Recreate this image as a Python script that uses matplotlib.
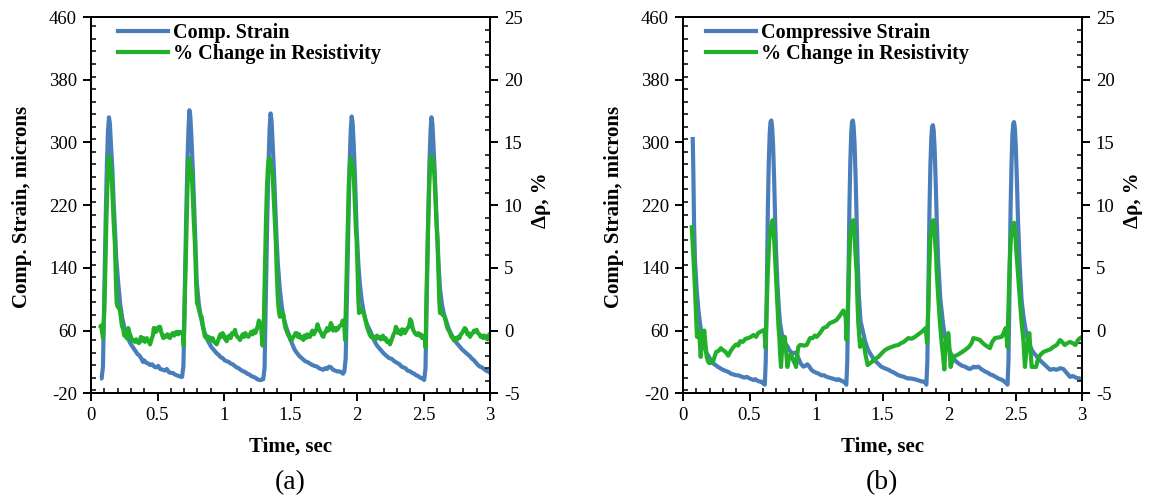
import matplotlib
matplotlib.use("Agg")
import matplotlib.pyplot as plt
from matplotlib.ticker import MultipleLocator, FixedLocator, FuncFormatter
from matplotlib.lines import Line2D

plt.rcParams['font.family'] = ['Liberation Serif', 'DejaVu Serif']
plt.rcParams['axes.unicode_minus'] = False

BLUE = '#4a7ebb'
GREEN = '#22b02b'

# ---------------- Panel (a): strain (microns) ----------------
a_strain = [
    (0.068, -1), (0.075, -1), (0.08, -1), (0.09, 14), (0.10, 110), (0.11, 200), (0.12, 275), (0.128, 315),
    (0.135, 332), (0.142, 324), (0.15, 297), (0.16, 268), (0.17, 225), (0.18, 190), (0.19, 152), (0.205, 120),
    (0.22, 93), (0.235, 76), (0.255, 61), (0.275, 51), (0.295, 44), (0.31, 40), (0.33, 35), (0.35, 30),
    (0.365, 28), (0.38, 24), (0.39, 20), (0.40, 22), (0.415, 19), (0.43, 18), (0.445, 16), (0.46, 17),
    (0.475, 14), (0.49, 13), (0.505, 15), (0.52, 11), (0.54, 10), (0.555, 9), (0.57, 11), (0.585, 7),
    (0.60, 6), (0.615, 6), (0.63, 4), (0.645, 3), (0.66, 2), (0.675, 1), (0.685, 1),
    (0.695, 15), (0.705, 110), (0.715, 200), (0.725, 275), (0.733, 318), (0.74, 341), (0.747, 333),
    (0.755, 306), (0.765, 268), (0.775, 222), (0.785, 170), (0.795, 122), (0.81, 95), (0.825, 78),
    (0.845, 62), (0.865, 52), (0.885, 45), (0.905, 39), (0.925, 35), (0.945, 31), (0.96, 29), (0.975, 26),
    (0.99, 25), (1.005, 22), (1.02, 21), (1.035, 20), (1.05, 18), (1.065, 17), (1.08, 15), (1.095, 13),
    (1.11, 12), (1.125, 10), (1.145, 8), (1.16, 7), (1.175, 5), (1.19, 4), (1.205, 2), (1.22, 1),
    (1.235, 0), (1.25, -2), (1.265, -3), (1.28, -3), (1.295, -2),
    (1.305, 12), (1.315, 110), (1.325, 200), (1.335, 275), (1.343, 318), (1.35, 337), (1.357, 329),
    (1.365, 302), (1.375, 265), (1.385, 220), (1.395, 178), (1.405, 145), (1.42, 112), (1.435, 90),
    (1.45, 75), (1.47, 63), (1.49, 54), (1.51, 44), (1.53, 36), (1.55, 31), (1.57, 27), (1.59, 24),
    (1.61, 21), (1.625, 20), (1.645, 18), (1.665, 16), (1.68, 15), (1.70, 14), (1.715, 12), (1.73, 11),
    (1.745, 10), (1.76, 12), (1.775, 11), (1.79, 14), (1.805, 13), (1.82, 10), (1.835, 9), (1.85, 8),
    (1.865, 8), (1.88, 7), (1.895, 5), (1.905, 8),
    (1.915, 25), (1.925, 110), (1.935, 200), (1.945, 275), (1.953, 315), (1.96, 333), (1.967, 325),
    (1.975, 298), (1.985, 255), (1.997, 190), (2.01, 145), (2.02, 122), (2.035, 99), (2.05, 84),
    (2.065, 73), (2.08, 66), (2.098, 60), (2.115, 53), (2.13, 47), (2.15, 41), (2.17, 37), (2.185, 34),
    (2.2, 31), (2.22, 28), (2.24, 25), (2.26, 24), (2.28, 21), (2.30, 19), (2.32, 17), (2.335, 14),
    (2.35, 13), (2.365, 12), (2.38, 9), (2.40, 8), (2.415, 6), (2.43, 5), (2.445, 3), (2.46, 2),
    (2.475, 0), (2.49, -1), (2.505, -3),
    (2.515, 12), (2.525, 110), (2.535, 200), (2.545, 275), (2.553, 315), (2.56, 332), (2.567, 324),
    (2.575, 297), (2.585, 260), (2.595, 215), (2.605, 175), (2.615, 138), (2.625, 112), (2.64, 92),
    (2.655, 80), (2.674, 70), (2.69, 62), (2.71, 55), (2.73, 49), (2.75, 44), (2.77, 40), (2.79, 36),
    (2.81, 33), (2.83, 30), (2.85, 27), (2.865, 24), (2.88, 22), (2.895, 19), (2.91, 16), (2.925, 14),
    (2.94, 13), (2.955, 11), (2.97, 9), (2.985, 8), (3.0, 6),
]

# ---------------- Panel (a): resistivity change (%) ----------------
a_resist = [
    (0.068, 0.2), (0.075, 0.4), (0.082, 0.0), (0.09, -0.6), (0.095, 0.5), (0.10, 1.5), (0.108, 5.0),
    (0.115, 8.5), (0.123, 11.5), (0.13, 13.3), (0.135, 13.9), (0.141, 13.4), (0.148, 13.2), (0.155, 12.4),
    (0.163, 10.5), (0.171, 8.5), (0.18, 6.8), (0.187, 4.0), (0.193, 2.2), (0.2, 1.9), (0.21, 1.8),
    (0.218, 1.6), (0.225, 1.0), (0.232, 0.4), (0.243, 0.06), (0.25, -0.4), (0.258, -0.2), (0.268, -0.6),
    (0.275, -0.1), (0.28, 0.2), (0.29, -0.2), (0.30, -0.5), (0.31, -0.8), (0.318, -0.75), (0.33, -0.9),
    (0.34, -0.7), (0.35, -0.9), (0.36, -1.0), (0.368, -0.9), (0.375, -0.5), (0.385, -0.8), (0.395, -0.6),
    (0.405, -0.9), (0.419, -0.6), (0.43, -0.8), (0.444, -1.1), (0.455, -0.7), (0.465, -0.4), (0.472, 0.2),
    (0.481, 0.2), (0.49, -0.1), (0.50, 0.1), (0.51, 0.3), (0.519, 0.3), (0.53, -0.2), (0.544, -0.6),
    (0.555, -0.4), (0.565, -0.5), (0.575, -0.3), (0.585, -0.5), (0.594, -0.6), (0.605, -0.3),
    (0.615, -0.2), (0.625, -0.4), (0.635, -0.2), (0.644, -0.1), (0.655, -0.3), (0.665, -0.1),
    (0.675, -0.2), (0.682, -0.1), (0.69, -0.2), (0.697, -1.2),
    (0.703, 1.5), (0.71, 5.0), (0.718, 8.5), (0.726, 11.5), (0.733, 13.3), (0.738, 13.75), (0.744, 13.3),
    (0.75, 13.0), (0.757, 12.6), (0.765, 10.8), (0.773, 8.7), (0.782, 6.8), (0.79, 4.0), (0.797, 2.2),
    (0.807, 1.9), (0.815, 1.5), (0.823, 1.2), (0.832, 1.1), (0.84, 0.5), (0.848, 0.0), (0.857, -0.5),
    (0.865, -0.4), (0.875, -0.7), (0.885, -0.5), (0.895, -0.6), (0.905, -0.8), (0.915, -0.6),
    (0.925, -0.9), (0.935, -1.0), (0.945, -1.1), (0.955, -0.8), (0.965, -0.5), (0.972, -0.3),
    (0.982, -0.5), (0.99, -0.2), (1.0, -0.4), (1.01, -0.7), (1.02, -0.85), (1.03, -0.5), (1.04, -0.4),
    (1.05, -0.6), (1.06, -0.2), (1.07, -0.3), (1.083, 0.06), (1.09, -0.3), (1.10, -0.5), (1.11, -0.6),
    (1.12, -0.75), (1.13, -0.5), (1.14, -0.3), (1.15, -0.5), (1.16, -0.2), (1.17, -0.4), (1.183, -0.5),
    (1.195, -0.3), (1.205, -0.1), (1.215, -0.3), (1.225, 0.0), (1.235, -0.2), (1.245, 0.06),
    (1.255, 0.4), (1.262, 0.8), (1.27, 0.6), (1.28, 0.2), (1.29, -1.2),
    (1.30, 1.0), (1.307, 4.5), (1.315, 8.5), (1.323, 11.5), (1.33, 13.0), (1.337, 13.6), (1.343, 13.75),
    (1.35, 13.3), (1.357, 13.0), (1.366, 12.3), (1.374, 10.5), (1.382, 8.6), (1.39, 7.0), (1.397, 4.5),
    (1.405, 2.5), (1.412, 1.6), (1.42, 1.1), (1.428, 1.5), (1.437, 1.3), (1.446, 1.3), (1.455, 0.6),
    (1.462, 0.2), (1.47, 0.0), (1.48, -0.3), (1.49, -0.5), (1.496, -0.6), (1.502, -0.8), (1.509, -0.75),
    (1.52, -0.5), (1.53, -0.4), (1.538, -0.2), (1.546, -0.2), (1.555, -0.5), (1.565, -0.3),
    (1.575, -0.6), (1.585, -0.5), (1.596, -0.75), (1.605, -0.4), (1.615, -0.6), (1.625, -0.3),
    (1.635, -0.5), (1.647, -0.5), (1.655, -0.2), (1.665, 0.0), (1.675, -0.3), (1.685, -0.1),
    (1.695, 0.1), (1.703, 0.5), (1.709, 0.3), (1.72, 0.0), (1.73, -0.2), (1.738, -0.4), (1.747, -0.5),
    (1.755, -0.2), (1.765, -0.1), (1.775, 0.2), (1.785, 0.0), (1.795, 0.2), (1.803, 0.6), (1.81, 0.45),
    (1.82, 0.0), (1.83, 0.2), (1.84, 0.0), (1.847, 0.2), (1.855, 0.1), (1.865, 0.3), (1.875, 0.4),
    (1.885, 0.5), (1.892, 0.8), (1.897, 0.7), (1.905, 0.3), (1.91, -0.75),
    (1.915, 1.5), (1.922, 5.0), (1.93, 8.5), (1.938, 11.5), (1.945, 13.0), (1.95, 13.5), (1.955, 13.75),
    (1.962, 13.3), (1.97, 13.1), (1.977, 12.0), (1.984, 10.0), (1.991, 8.2), (1.997, 7.2), (2.005, 4.5),
    (2.01, 2.5), (2.015, 1.4), (2.022, 1.7), (2.03, 1.5), (2.04, 1.6), (2.047, 1.5), (2.055, 1.2),
    (2.065, 0.8), (2.075, 0.3), (2.085, 0.0), (2.095, -0.3), (2.105, -0.5), (2.112, -0.4), (2.12, -0.6),
    (2.13, -0.5), (2.14, -0.7), (2.15, -0.4), (2.16, -0.6), (2.17, -0.5), (2.178, -0.7), (2.186, -0.6),
    (2.195, -0.4), (2.205, -0.7), (2.215, -0.6), (2.225, -0.9), (2.235, -0.8), (2.248, -1.1),
    (2.255, -0.9), (2.265, -0.6), (2.275, -0.3), (2.285, -0.1), (2.292, 0.3), (2.298, 0.2), (2.31, -0.2),
    (2.32, 0.0), (2.33, -0.3), (2.34, 0.1), (2.35, 0.06), (2.36, -0.2), (2.37, 0.0), (2.38, 0.2),
    (2.39, 0.3), (2.40, 0.9), (2.41, 0.7), (2.418, 0.2), (2.425, 0.0), (2.435, -0.2), (2.449, -0.35),
    (2.46, -0.2), (2.47, -0.4), (2.48, -0.3), (2.49, -0.6), (2.50, -0.5), (2.508, -0.4), (2.516, -1.35),
    (2.52, 1.5), (2.527, 5.0), (2.535, 8.5), (2.543, 11.5), (2.55, 13.3), (2.556, 13.7), (2.56, 13.9),
    (2.567, 13.5), (2.575, 13.2), (2.582, 12.4), (2.59, 10.5), (2.597, 8.6), (2.605, 7.2), (2.612, 4.5),
    (2.618, 2.5), (2.624, 1.4), (2.632, 1.6), (2.64, 1.3), (2.65, 1.2), (2.66, 1.1), (2.67, 0.6),
    (2.68, 0.2), (2.69, 0.0), (2.70, -0.2), (2.71, -0.5), (2.72, -0.6), (2.73, -0.8), (2.74, -0.6),
    (2.75, -0.75), (2.76, -0.5), (2.77, -0.6), (2.78, -0.3), (2.79, -0.2), (2.80, 0.0), (2.81, 0.2),
    (2.82, 0.1), (2.83, -0.3), (2.84, -0.2), (2.85, -0.5), (2.86, -0.3), (2.87, -0.2), (2.88, 0.0),
    (2.89, -0.1), (2.90, 0.06), (2.91, -0.2), (2.92, -0.3), (2.93, -0.5), (2.94, -0.4), (2.95, -0.6),
    (2.96, -0.4), (2.97, -0.5), (2.98, -0.7), (2.99, -0.4), (3.0, -0.2),
]

# ---------------- Panel (b): strain (microns) ----------------
b_strain = [
    (0.073, 307), (0.078, 260), (0.083, 197), (0.09, 150), (0.103, 112), (0.115, 88), (0.128, 69),
    (0.14, 55), (0.153, 44), (0.165, 37), (0.178, 31), (0.19, 28), (0.20, 25), (0.215, 21), (0.228, 18),
    (0.245, 16), (0.26, 14), (0.28, 12), (0.30, 10), (0.315, 9), (0.33, 8), (0.345, 7), (0.36, 5),
    (0.38, 4), (0.40, 3), (0.415, 3), (0.43, 2), (0.445, 1), (0.46, 0), (0.48, 1), (0.50, -1),
    (0.515, -2), (0.53, -3), (0.545, -2), (0.56, -4), (0.575, -5), (0.59, -5), (0.60, -7), (0.615, -9),
    (0.622, 20), (0.63, 110), (0.638, 215), (0.645, 275), (0.652, 312), (0.658, 326), (0.664, 328),
    (0.67, 320), (0.677, 298), (0.685, 255), (0.693, 200), (0.70, 160), (0.71, 120), (0.72, 90),
    (0.73, 69), (0.745, 54),
    (0.76, 46), (0.77, 43), (0.785, 40), (0.80, 35), (0.815, 32), (0.83, 31), (0.845, 32), (0.855, 30),
    (0.87, 24), (0.885, 18), (0.905, 14), (0.92, 15), (0.935, 17), (0.95, 14), (0.965, 10), (0.98, 8),
    (1.005, 6), (1.02, 5), (1.04, 3), (1.06, 3), (1.08, 1), (1.10, 0), (1.12, -1), (1.14, -2),
    (1.155, -3), (1.17, -2), (1.19, -4), (1.205, -5), (1.22, -7), (1.228, -9),
    (1.235, 20), (1.243, 110), (1.251, 215), (1.258, 275), (1.265, 312), (1.271, 326), (1.277, 328),
    (1.283, 320), (1.29, 298), (1.298, 255), (1.306, 200), (1.313, 150), (1.322, 105), (1.335, 72),
    (1.355, 57), (1.37, 46), (1.39, 36), (1.41, 30),
    (1.44, 22), (1.46, 19), (1.49, 14), (1.515, 12), (1.545, 10), (1.565, 8), (1.58, 7), (1.60, 5),
    (1.62, 3), (1.64, 2), (1.66, 1), (1.69, -1), (1.71, -1), (1.74, -2), (1.76, -3), (1.78, -4),
    (1.795, -5), (1.81, -5), (1.82, -6), (1.83, -9),
    (1.837, 20), (1.845, 110), (1.853, 212), (1.86, 270), (1.867, 306), (1.873, 320), (1.879, 322),
    (1.885, 315), (1.892, 292), (1.90, 250), (1.908, 200), (1.918, 150), (1.935, 100), (1.955, 69),
    (1.97, 52), (1.99, 40), (2.01, 32),
    (2.03, 26), (2.045, 22), (2.065, 19), (2.08, 17), (2.10, 15), (2.12, 14), (2.14, 12), (2.155, 11),
    (2.17, 12), (2.185, 14), (2.20, 13), (2.22, 14), (2.235, 12), (2.25, 10), (2.27, 8), (2.295, 6),
    (2.31, 4), (2.33, 3), (2.35, 1), (2.37, -1), (2.385, -2), (2.40, -3), (2.415, -5), (2.43, -7),
    (2.44, -9),
    (2.447, 20), (2.455, 110), (2.463, 215), (2.47, 273), (2.477, 310), (2.483, 324), (2.489, 326),
    (2.495, 319), (2.502, 296), (2.51, 255), (2.518, 205), (2.53, 150), (2.545, 100), (2.56, 78),
    (2.575, 62), (2.59, 50), (2.60, 45),
    (2.62, 36), (2.64, 31), (2.66, 27), (2.685, 22), (2.71, 18), (2.735, 14), (2.76, 10), (2.785, 11),
    (2.81, 10), (2.835, 12), (2.86, 11), (2.875, 8), (2.89, 5), (2.91, 1), (2.93, 2), (2.96, -0.4),
    (2.98, -1), (3.0, -2),
]

# ---------------- Panel (b): resistivity change (%) ----------------
b_resist = [
    (0.065, 8.4), (0.07, 7.5), (0.08, 5.5), (0.09, 3.3), (0.098, 1.2), (0.105, -0.5), (0.112, -0.2),
    (0.12, 0.1), (0.127, -1.0), (0.133, -2.1), (0.14, -1.2), (0.15, -0.5), (0.16, 0.0), (0.168, -1.0),
    (0.178, -2.1), (0.19, -2.5), (0.20, -2.6), (0.225, -2.5), (0.24, -2.0), (0.25, -1.7), (0.27, -1.6),
    (0.285, -1.4), (0.30, -1.55), (0.32, -1.7), (0.34, -2.0), (0.36, -1.6), (0.38, -1.3), (0.40, -1.1),
    (0.415, -1.2), (0.43, -0.85), (0.45, -0.9), (0.47, -0.65), (0.49, -0.6), (0.51, -0.5), (0.53, -0.35),
    (0.55, -0.5), (0.565, -0.2), (0.58, -0.1), (0.60, 0.0), (0.612, 0.06), (0.619, -1.35),
    (0.627, 1.0), (0.637, 4.5), (0.647, 7.0), (0.655, 7.8), (0.665, 8.4), (0.674, 8.8), (0.682, 8.0),
    (0.69, 6.3), (0.70, 4.3), (0.71, 2.0), (0.718, 0.3), (0.724, -0.5), (0.731, -2.0), (0.737, -2.9),
    (0.745, -1.5), (0.754, -0.75), (0.765, -0.5), (0.774, -1.5), (0.785, -2.9), (0.795, -2.3),
    (0.81, -1.9), (0.82, -2.1), (0.83, -2.4), (0.84, -2.6), (0.85, -2.9), (0.858, -2.0), (0.867, -1.3),
    (0.88, -1.15), (0.892, -1.15), (0.91, -1.2), (0.93, -1.15), (0.955, -0.6), (0.975, -0.6),
    (0.99, -0.4), (1.005, -0.5), (1.03, -0.2), (1.055, 0.2), (1.08, 0.3), (1.095, 0.5), (1.105, 0.6),
    (1.13, 0.7), (1.155, 0.85), (1.18, 1.2), (1.205, 1.6), (1.223, 1.1), (1.23, -0.75),
    (1.24, 2.0), (1.25, 5.5), (1.258, 7.6), (1.265, 8.1), (1.272, 8.5), (1.28, 8.8), (1.287, 8.2),
    (1.295, 6.5), (1.306, 4.5), (1.312, 2.2), (1.318, 0.6), (1.331, -1.3), (1.348, -0.75),
    (1.358, -1.0), (1.372, -1.9), (1.388, -2.75), (1.419, -2.5), (1.44, -2.3), (1.469, -2.1),
    (1.495, -1.8), (1.519, -1.55), (1.545, -1.4), (1.569, -1.3), (1.595, -1.2), (1.619, -1.15),
    (1.64, -1.0), (1.66, -0.9), (1.694, -0.6), (1.72, -0.65), (1.744, -0.5), (1.77, -0.3),
    (1.795, -0.1), (1.825, 0.2), (1.835, -1.0),
    (1.845, 2.0), (1.852, 5.0), (1.86, 7.4), (1.867, 8.0), (1.874, 8.5), (1.882, 8.8), (1.889, 8.4),
    (1.896, 7.0), (1.903, 6.0), (1.907, 4.8), (1.92, 2.5), (1.932, 0.6), (1.945, -1.0), (1.955, -2.0),
    (1.965, -3.1), (1.975, -1.0), (1.982, -0.5), (1.995, -0.2), (2.004, -1.5), (2.012, -2.9),
    (2.033, -2.1), (2.07, -1.9), (2.10, -1.7), (2.12, -1.55), (2.15, -1.3), (2.17, -1.0), (2.183, -0.6),
    (2.205, -0.65), (2.233, -0.75), (2.25, -0.95), (2.271, -1.15), (2.308, -1.4), (2.325, -0.9),
    (2.346, -0.6), (2.37, -0.55), (2.396, -0.5), (2.41, -0.2), (2.426, 0.2), (2.439, -1.3),
    (2.447, 2.0), (2.455, 5.0), (2.463, 7.0), (2.47, 7.8), (2.48, 8.3), (2.49, 8.6), (2.497, 8.0),
    (2.505, 6.5), (2.52, 4.3), (2.535, 2.0), (2.546, 0.6), (2.559, -0.75), (2.571, -2.9), (2.58, -1.8),
    (2.59, -1.0), (2.604, -0.2), (2.612, -1.5), (2.622, -2.9), (2.64, -2.9), (2.655, -2.9),
    (2.67, -2.2), (2.69, -1.9), (2.71, -1.7), (2.735, -1.6), (2.76, -1.5), (2.785, -1.3), (2.81, -1.15),
    (2.835, -0.75), (2.85, -0.9), (2.87, -1.15), (2.89, -1.0), (2.91, -0.9), (2.93, -1.0), (2.95, -1.15),
    (2.97, -0.75), (2.985, -0.6), (3.0, -0.5),
]

x_ticks = [0, 0.5, 1, 1.5, 2, 2.5, 3]
strain_ticks = [-20, 60, 140, 220, 300, 380, 460]
resist_ticks = [-5, 0, 5, 10, 15, 20, 25]
panel_labels = ['(a)', '(b)']
strain_names = ['Comp. Strain', 'Compressive Strain']
resist_name = '% Change in Resistivity'
xlabel_text = 'Time, sec'
ylabel_left = 'Comp. Strain, microns'
ylabel_right = '\u0394\u03c1, %'

W, H = 1150, 500
fig = plt.figure(figsize=(W / 100, H / 100), dpi=100)

ax_left_px = [91, 683]
ax_w_px = 399
ax_top_px = 17
ax_bot_px = 393.3
ax_h_px = ax_bot_px - ax_top_px

TICK_FS = 13.5
LABEL_FS = 15
LEG_FS = 14.5
LW = 3.0

fmt = FuncFormatter(lambda v, p: ('%g' % v))

datasets = [(a_strain, a_resist), (b_strain, b_resist)]

for i, (strain, resist) in enumerate(datasets):
    left = ax_left_px[i]
    ax = fig.add_axes([left / W, (H - ax_bot_px) / H, ax_w_px / W, ax_h_px / H])
    axr = ax.twinx()

    ts = [p[0] for p in strain]
    vs = [p[1] for p in strain]
    tr = [p[0] for p in resist]
    vr = [p[1] for p in resist]

    ax.plot(ts, vs, color=BLUE, lw=LW, solid_joinstyle='round', solid_capstyle='butt')
    axr.plot(tr, vr, color=GREEN, lw=LW, solid_joinstyle='round', solid_capstyle='butt')

    ax.set_xlim(0, 3)
    ax.set_ylim(-20, 460)
    axr.set_ylim(-5, 25)

    ax.xaxis.set_major_locator(FixedLocator(x_ticks))
    ax.xaxis.set_minor_locator(MultipleLocator(0.1))
    ax.xaxis.set_major_formatter(fmt)
    ax.yaxis.set_major_locator(FixedLocator(strain_ticks))
    ax.yaxis.set_minor_locator(MultipleLocator(16))
    ax.yaxis.set_major_formatter(fmt)
    axr.yaxis.set_major_locator(FixedLocator(resist_ticks))
    axr.yaxis.set_minor_locator(MultipleLocator(1))
    axr.yaxis.set_major_formatter(fmt)

    for a in (ax, axr):
        for s in a.spines.values():
            s.set_linewidth(1.4)
            s.set_color('black')
        a.tick_params(which='major', direction='out', length=5.5, width=1.4,
                      labelsize=TICK_FS, pad=4.5, colors='black')
        a.tick_params(which='minor', direction='in', length=3.5, width=1.1)
    ax.tick_params(axis='both', which='both', top=False, right=False)
    axr.tick_params(axis='y', which='both', left=False, right=True)

    # legend
    handles = [Line2D([], [], color=BLUE, lw=LW), Line2D([], [], color=GREEN, lw=LW)]
    axr.legend(handles, [strain_names[i], resist_name], loc='upper left',
               bbox_to_anchor=((27 if i == 0 else 23) / ax_w_px, 0.985),
               frameon=False, borderpad=0, borderaxespad=0, handlelength=2.5,
               handletextpad=0.25, labelspacing=0.05,
               prop={'weight': 'bold', 'size': LEG_FS, 'family': 'Liberation Serif'})

    # axis labels
    cx = left + ax_w_px / 2
    fig.text(cx / W, 1 - 447 / H, xlabel_text, ha='center', va='center',
             fontsize=LABEL_FS, fontweight='bold')
    fig.text((left - 69) / W, 1 - 207 / H, ylabel_left, ha='center', va='center',
             rotation=90, fontsize=LABEL_FS, fontweight='bold')
    fig.text((left + 450) / W, 1 - 200 / H, ylabel_right, ha='center', va='center',
             rotation=90, fontsize=LABEL_FS, fontweight='bold')
    fig.text((left + 199) / W, 1 - 483 / H, panel_labels[i], ha='center', va='center',
             fontsize=20)

fig.savefig('out.png', dpi=100)
